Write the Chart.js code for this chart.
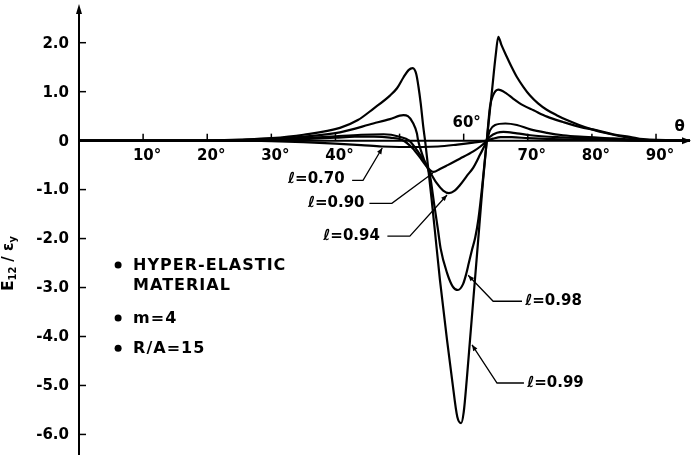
<!DOCTYPE html>
<html>
<head>
<meta charset="utf-8">
<script src="https://cdn.jsdelivr.net/npm/chart.js@4.4.0/dist/chart.umd.min.js"></script>
<style>
    html, body { margin: 0; padding: 0; background: #fff; }
    canvas { display: block; }
</style>
</head>
<body>
<canvas id="myChart" width="692" height="465"></canvas>
<script>
// axis ticks
const xTicks = [10, 20, 30, 40, 50, 60, 70, 80, 90];
const xTickLabels = ['10°', '20°', '30°', '40°', '', '60°', '70°', '80°', '90°'];
const yTicks = [2, 1, 0, -1, -2, -3, -4, -5, -6];
const yTickLabels = ['2.0', '1.0', '0', '-1.0', '-2.0', '-3.0', '-4.0', '-5.0', '-6.0'];

// curve names
const curveNames = ['ℓ=0.70', 'ℓ=0.90', 'ℓ=0.94', 'ℓ=0.98', 'ℓ=0.99'];

// theta (deg) and E12/ey for each curve
const theta070 = [0, 25, 30, 35, 40, 44, 47.2, 50, 53.5, 56, 59, 61.5, 63.6, 64.6, 65.8, 67.5, 70, 74, 78, 83, 88, 95.3];
const e070 = [0, 0, -0.01, -0.03, -0.06, -0.09, -0.12, -0.13, -0.13, -0.12, -0.08, -0.04, 0, 0.04, 0.07, 0.07, 0.05, 0.03, 0.02, 0.01, 0, 0];

const theta090 = [0, 25, 30, 35, 40, 43, 46, 48.5, 50.5, 52, 53.5, 54.5, 55.3, 56.3, 57.5, 59.4, 61.5, 62.6, 63.6, 64.1, 65.2, 66.2, 68.3, 70.4, 75.5, 80.8, 86, 95.3];
const e090 = [0, 0, 0.01, 0.03, 0.06, 0.08, 0.08, 0.06, 0.01, -0.15, -0.4, -0.57, -0.64, -0.58, -0.5, -0.37, -0.22, -0.12, 0, 0.08, 0.16, 0.18, 0.15, 0.11, 0.065, 0.035, 0.01, 0];

const theta094 = [0, 25, 30, 35, 40, 44, 47.5, 50, 51.5, 53, 54, 54.8, 55.8, 56.8, 57.7, 58.6, 59.4, 60.5, 61.5, 62.5, 63.6, 64.1, 64.9, 66.5, 68.3, 70.4, 73, 75.5, 78.1, 83.3, 88, 95.3];
const e094 = [0, 0, 0.02, 0.05, 0.09, 0.12, 0.13, 0.08, 0, -0.25, -0.45, -0.65, -0.87, -1.02, -1.07, -1.02, -0.91, -0.72, -0.55, -0.3, 0, 0.21, 0.32, 0.35, 0.32, 0.23, 0.16, 0.11, 0.08, 0.045, 0.01, 0];

const theta098 = [0, 20, 25, 30, 35, 40.7, 45.9, 48.5, 50.6, 51.3, 52.1, 52.7, 52.9, 53.8, 54.75, 55.4, 56.0, 56.4, 57.4, 58.3, 59.1, 59.9, 60.4, 60.8, 61.3, 61.8, 62.3, 62.9, 63.6, 64.1, 64.6, 65.4, 66.7, 67.7, 69.3, 70.9, 73, 75.5, 78.1, 80.8, 83.3, 85.9, 88, 95.3];
const e098 = [0, 0, 0.01, 0.04, 0.08, 0.17, 0.35, 0.44, 0.52, 0.5, 0.36, 0.15, 0, -0.38, -0.72, -1.3, -1.83, -2.2, -2.7, -2.98, -3.05, -2.93, -2.72, -2.5, -2.23, -1.98, -1.6, -0.92, 0, 0.69, 0.93, 1.04, 0.96, 0.86, 0.72, 0.62, 0.49, 0.38, 0.28, 0.21, 0.13, 0.08, 0.03, 0];

const theta099 = [0, 20, 25, 30, 35, 40.7, 43.5, 45.9, 48.5, 49.6, 50.6, 51.4, 52.05, 52.6, 52.95, 53.3, 53.7, 54.0, 54.5, 55.0, 55.5, 56.3, 57.4, 58.2, 59.0, 59.6, 60.0, 60.5, 61.0, 61.5, 62.0, 62.5, 63.0, 63.6, 64.4, 65.0, 65.4, 65.9, 66.7, 67.5, 68.3, 69.3, 70.35, 71.6, 72.95, 74.5, 76.1, 78, 80, 82.3, 85.4, 88, 95.3];
const e099 = [0, 0, 0.02, 0.05, 0.12, 0.26, 0.42, 0.65, 0.92, 1.07, 1.29, 1.44, 1.48, 1.36, 1.1, 0.76, 0.28, -0.02, -0.6, -1.2, -1.83, -2.85, -4.07, -4.89, -5.64, -5.77, -5.55, -4.85, -4.05, -3.25, -2.45, -1.65, -0.85, 0, 1.0, 1.75, 2.12, 1.95, 1.72, 1.5, 1.3, 1.1, 0.92, 0.76, 0.63, 0.52, 0.42, 0.32, 0.23, 0.15, 0.065, 0.015, 0];

const notes = ['HYPER-ELASTIC', 'MATERIAL', 'm=4', 'R/A=15'];

function toPoints(xs, ys) {
    return xs.map((x, i) => ({ x: x, y: ys[i] }));
}

const seriesX = [theta070, theta090, theta094, theta098, theta099];
const seriesY = [e070, e090, e094, e098, e099];

const datasets = curveNames.map((name, i) => ({
    label: name,
    data: toPoints(seriesX[i], seriesY[i]),
    borderColor: '#000',
    borderWidth: 2.2,
    pointRadius: 0,
    showLine: true,
    fill: false,
    cubicInterpolationMode: 'monotone'
}));

// where each curve label sits: text anchor, leader bend, leader tip (data units)
const labelSpots = [
    { text: [32.6, -0.79], start: [42.6, -0.81], bend: [44.3, -0.81], tip: [47.3, -0.15], arrow: true },
    { text: [35.7, -1.28], start: [45.3, -1.28], bend: [48.8, -1.28], tip: [55.2, -0.66], arrow: false },
    { text: [38.1, -1.95], start: [48.1, -1.95], bend: [51.6, -1.95], tip: [57.4, -1.11], arrow: true },
    { text: [69.6, -3.28], start: [69.1, -3.28], bend: [64.6, -3.28], tip: [60.7, -2.75], arrow: true },
    { text: [69.9, -4.95], start: [69.4, -4.95], bend: [65.2, -4.95], tip: [61.3, -4.17], arrow: true }
];

function arrowHead(ctx, fromX, fromY, tipX, tipY, len, half) {
    const a = Math.atan2(tipY - fromY, tipX - fromX);
    ctx.beginPath();
    ctx.moveTo(tipX, tipY);
    ctx.lineTo(tipX - len * Math.cos(a) + half * Math.sin(a), tipY - len * Math.sin(a) - half * Math.cos(a));
    ctx.lineTo(tipX - len * Math.cos(a) - half * Math.sin(a), tipY - len * Math.sin(a) + half * Math.cos(a));
    ctx.closePath();
    ctx.fill();
}

const axesPlugin = {
    id: 'drawnAxes',
    afterDatasetsDraw(chart) {
        const ctx = chart.ctx;
        const xs = chart.scales.x;
        const ys = chart.scales.y;
        const area = chart.chartArea;
        const x0 = xs.getPixelForValue(0);
        const y0 = ys.getPixelForValue(0);
        ctx.save();
        ctx.strokeStyle = '#000';
        ctx.fillStyle = '#000';
        ctx.lineWidth = 2;

        // y axis with arrow
        ctx.beginPath();
        ctx.moveTo(x0, area.bottom);
        ctx.lineTo(x0, area.top + 4);
        ctx.stroke();
        arrowHead(ctx, x0, area.top + 20, x0, area.top - 1, 10, 3);

        // x axis with arrow
        ctx.beginPath();
        ctx.moveTo(x0, y0);
        ctx.lineTo(area.right - 4, y0);
        ctx.stroke();
        arrowHead(ctx, area.right - 20, y0, area.right + 1, y0, 9, 3.5);

        // y ticks
        ctx.lineWidth = 1.5;
        ctx.font = 'bold 15px "DejaVu Sans"';
        ctx.textAlign = 'right';
        ctx.textBaseline = 'middle';
        yTicks.forEach((v, i) => {
            const py = ys.getPixelForValue(v);
            ctx.beginPath();
            ctx.moveTo(x0, py);
            ctx.lineTo(x0 + 7, py);
            ctx.stroke();
            ctx.fillText(yTickLabels[i], x0 - 10, py + 1);
        });

        // x ticks
        ctx.font = 'bold 15px "DejaVu Sans"';
        ctx.textAlign = 'center';
        xTicks.forEach((v, i) => {
            const px = xs.getPixelForValue(v);
            ctx.beginPath();
            ctx.moveTo(px, y0);
            ctx.lineTo(px, y0 - 7);
            ctx.stroke();
            if (v === 60) {
                ctx.fillText(xTickLabels[i], px + 3, y0 - 18);
            } else {
                ctx.fillText(xTickLabels[i], px + 4, y0 + 15);
            }
        });

        // theta label
        ctx.font = 'bold 15px "DejaVu Sans"';
        ctx.fillText('θ', xs.getPixelForValue(93.7), y0 - 14);

        // y title
        ctx.save();
        ctx.translate(9, ys.getPixelForValue(-2.25));
        ctx.rotate(-Math.PI / 2);
        ctx.textAlign = 'left';
        ctx.textBaseline = 'middle';
        let tx = -40;
        ctx.font = 'bold 15px "DejaVu Sans"';
        ctx.fillText('E', tx, 0); tx += ctx.measureText('E').width;
        ctx.font = 'bold 10px "DejaVu Sans"';
        ctx.fillText('12', tx, 4); tx += ctx.measureText('12').width + 5;
        ctx.font = 'bold 15px "DejaVu Sans"';
        ctx.fillText('/ ε', tx, 0); tx += ctx.measureText('/ ε').width;
        ctx.font = 'bold 10px "DejaVu Sans"';
        ctx.fillText('y', tx, 4);
        ctx.restore();

        // curve labels with leaders
        ctx.font = 'bold 15px "DejaVu Sans"';
        ctx.textAlign = 'left';
        ctx.textBaseline = 'middle';
        ctx.lineWidth = 1.3;
        labelSpots.forEach((s, i) => {
            const p = (d) => [xs.getPixelForValue(d[0]), ys.getPixelForValue(d[1])];
            const t = p(s.text), a = p(s.start), b = p(s.bend), c = p(s.tip);
            ctx.fillText(curveNames[i], t[0], t[1]);
            ctx.beginPath();
            ctx.moveTo(a[0], a[1]);
            ctx.lineTo(b[0], b[1]);
            ctx.lineTo(c[0], c[1]);
            ctx.stroke();
            if (s.arrow) arrowHead(ctx, b[0], b[1], c[0], c[1], 6, 2.5);
        });

        // notes
        const bx = xs.getPixelForValue(6.1);
        const noteY = [-2.54, -2.95, -3.62, -4.24];
        const bullets = [true, false, true, true];
        ctx.font = 'bold 16px "DejaVu Sans"';
        ctx.letterSpacing = '1px';
        notes.forEach((n, i) => {
            const py = ys.getPixelForValue(noteY[i]);
            if (bullets[i]) {
                ctx.beginPath();
                ctx.arc(bx, py, 3.5, 0, Math.PI * 2);
                ctx.fill();
            }
            ctx.fillText(n, bx + 15, py + 1);
        });

        ctx.restore();
    }
};

const config = {
    type: 'scatter',
    data: { datasets: datasets },
    options: {
        responsive: false,
        animation: false,
        devicePixelRatio: 1,
        layout: {
            padding: { left: 79, right: 2, top: 5, bottom: 10 }
        },
        scales: {
            x: { type: 'linear', min: 0, max: 95.3, display: false },
            y: { type: 'linear', min: -6.42, max: 2.77, display: false }
        },
        plugins: {
            legend: { display: false },
            tooltip: { enabled: false }
        }
    },
    plugins: [axesPlugin]
};

const ctx = document.getElementById('myChart').getContext('2d');
new Chart(ctx, config);
</script>
</body>
</html>
